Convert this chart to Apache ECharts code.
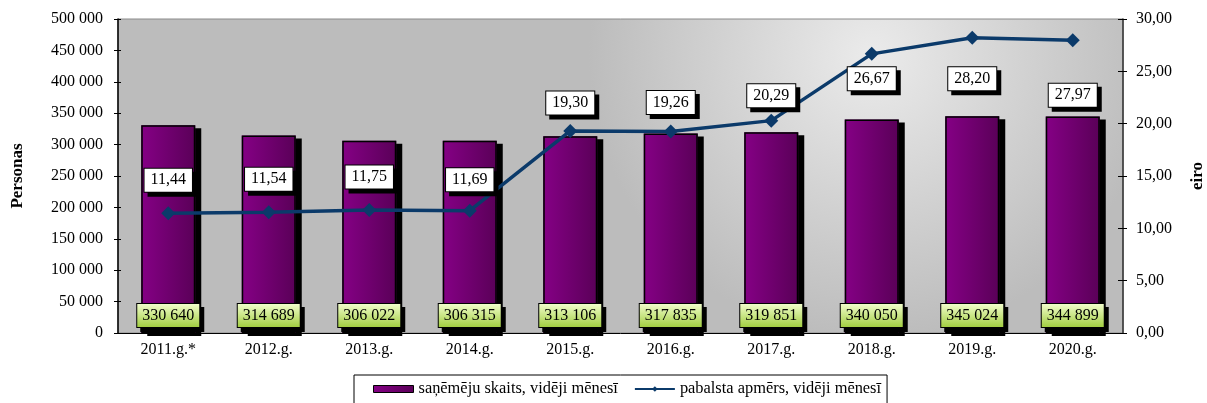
<!DOCTYPE html>
<html>
<head>
<meta charset="utf-8">
<script src="https://cdn.jsdelivr.net/npm/echarts@6/dist/echarts.min.js"></script>
<style>
html,body{margin:0;padding:0;background:#fff;}
#chart{width:1207px;height:403px;}
</style>
</head>
<body>
<div id="chart"></div>
<script>
var years = ['2011.g.*','2012.g.','2013.g.','2014.g.','2015.g.','2016.g.','2017.g.','2018.g.','2019.g.','2020.g.'];
var recipients = [330640, 314689, 306022, 306315, 313106, 317835, 319851, 340050, 345024, 344899];
var benefit = [11.44, 11.54, 11.75, 11.69, 19.30, 19.26, 20.29, 26.67, 28.20, 27.97];
// label offset (px) from the point, negative = above
var benefitLabelDy = [-33, -33, -33, -31, -28, -29, -25, 25, 41, 55];

var serif = '"Liberation Serif", "Times New Roman", serif';

function fmtThousands(v) {
    return String(v).replace(/\B(?=(\d{3})+(?!\d))/g, ' ');
}
function fmtComma(v) {
    return v.toFixed(2).replace('.', ',');
}

var chart = echarts.init(document.getElementById('chart'));

var lineData = benefit.map(function (v, i) {
    return {
        value: v,
        label: {offset: [0, benefitLabelDy[i]]}
    };
});

var barName = 'saņēmēju skaits, vidēji mēnesī';
var lineName = 'pabalsta apmērs, vidēji mēnesī';

// extra axes only for the inner half of the crossing ticks
function innerTicks(pos, max, interval, len) {
    return {
        type: 'value', position: pos, min: 0, max: max, interval: interval,
        axisLine: {show: false},
        axisTick: {show: true, inside: true, length: len, lineStyle: {color: '#000'}},
        axisLabel: {show: false},
        splitLine: {show: false}
    };
}

option = {
    animation: false,
    textStyle: {fontFamily: serif},
    grid: {
        left: 118,
        right: 84,
        top: 19,
        bottom: 70,
        outerBoundsMode: 'none',
        containLabel: false,
        show: true,
        borderColor: '#8a8a8a',
        borderWidth: 1,
        backgroundColor: new echarts.graphic.RadialGradient(0.75, 0.12, 0.9, [
            {offset: 0, color: '#ebebeb'},
            {offset: 1, color: '#bcbcbc'}
        ])
    },
    legend: {
        left: 354,
        top: 375,
        padding: [6, 6, 12, 19],
        borderColor: '#000',
        borderWidth: 1,
        itemGap: 16,
        textStyle: {fontFamily: serif, fontSize: 16.4, color: '#000'},
        data: [
            {name: barName, icon: 'rect', itemStyle: {borderColor: '#000', borderWidth: 1}},
            {name: lineName}
        ],
        itemWidth: 40,
        itemHeight: 7
    },
    xAxis: {
        type: 'category',
        data: years,
        axisLine: {lineStyle: {color: '#000', width: 1}},
        axisTick: {length: 6, lineStyle: {color: '#000'}},
        axisLabel: {color: '#000', fontSize: 16, fontFamily: serif, margin: 9}
    },
    yAxis: [
        {
            type: 'value',
            min: 0,
            max: 500000,
            interval: 50000,
            name: 'Personas',
            nameLocation: 'middle',
            nameRotate: 90,
            nameGap: 92,
            nameTextStyle: {fontFamily: serif, fontSize: 17, fontWeight: 'bold', color: '#000'},
            axisLine: {show: true, lineStyle: {color: '#000', width: 1.5}},
            axisTick: {show: true, length: 4, lineStyle: {color: '#000'}},
            splitLine: {show: false},
            axisLabel: {
                color: '#000', fontSize: 16, fontFamily: serif, margin: 15,
                formatter: fmtThousands
            }
        },
        {
            type: 'value',
            min: 0,
            max: 30,
            interval: 5,
            name: 'eiro',
            nameLocation: 'middle',
            nameRotate: 90,
            nameGap: 66,
            nameTextStyle: {fontFamily: serif, fontSize: 17, fontWeight: 'bold', color: '#000'},
            axisLine: {show: true, lineStyle: {color: '#333', width: 1.5}},
            axisTick: {show: true, length: 4, lineStyle: {color: '#000'}},
            splitLine: {show: false},
            axisLabel: {
                color: '#000', fontSize: 16, fontFamily: serif, margin: 13,
                formatter: fmtComma
            }
        },
        innerTicks('left', 500000, 50000, 3),
        innerTicks('right', 30, 5, 5)
    ],
    series: [
        {
            // filled bar + drop shadow
            name: barName,
            type: 'bar',
            yAxisIndex: 0,
            barWidth: 54,
            data: recipients,
            itemStyle: {
                color: new echarts.graphic.LinearGradient(0, 0, 1, 0, [
                    {offset: 0, color: '#850085'},
                    {offset: 1, color: '#5a0058'}
                ]),
                borderWidth: 0,
                shadowColor: '#000',
                shadowBlur: 0,
                shadowOffsetX: 6,
                shadowOffsetY: 3
            },
            z: 2
        },
        {
            // outline on top, no shadow, carries the value labels
            name: barName,
            type: 'bar',
            yAxisIndex: 0,
            barWidth: 54,
            barGap: '-100%',
            data: recipients,
            silent: true,
            itemStyle: {
                color: 'rgba(0,0,0,0)',
                borderColor: '#000',
                borderWidth: 1.5
            },
            label: {
                show: true,
                position: 'insideBottom',
                distance: 6,
                formatter: function (p) { return fmtThousands(p.value); },
                fontFamily: serif,
                fontSize: 16,
                color: '#000',
                padding: [4, 5, 3, 5],
                borderColor: '#000',
                borderWidth: 1,
                backgroundColor: new echarts.graphic.LinearGradient(0, 0, 0, 1, [
                    {offset: 0, color: '#f4ffd0'},
                    {offset: 1, color: '#9fcc3c'}
                ]),
                shadowColor: '#000',
                shadowBlur: 0,
                shadowOffsetX: 4,
                shadowOffsetY: 4
            },
            z: 3
        },
        {
            name: lineName,
            type: 'line',
            yAxisIndex: 1,
            data: lineData,
            symbol: 'diamond',
            symbolSize: 14,
            color: '#0b3a6a',
            lineStyle: {color: '#0b3a6a', width: 3.5},
            itemStyle: {color: '#0b3a6a'},
            label: {
                show: true,
                position: 'inside',
                formatter: function (p) { return fmtComma(p.value); },
                fontFamily: serif,
                fontSize: 16,
                color: '#000',
                padding: [4, 6, 3, 6],
                borderColor: '#000',
                borderWidth: 1,
                backgroundColor: '#fff',
                shadowColor: '#000',
                shadowBlur: 0,
                shadowOffsetX: 4,
                shadowOffsetY: 4
            },
            z: 5
        }
    ]
};
chart.setOption(option);
</script>
</body>
</html>
